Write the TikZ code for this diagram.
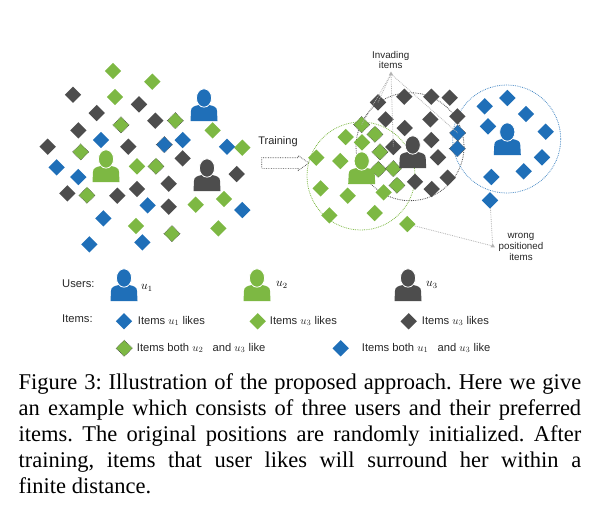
\documentclass[tikz,border=0pt]{standalone}
\usepackage{fontspec}
\setmainfont{Liberation Serif}
\setsansfont{Liberation Sans}
\usetikzlibrary{shapes.geometric}
\usetikzlibrary{shapes.arrows}
\definecolor{ublue}{HTML}{1F6FB8}
\definecolor{ugreen}{HTML}{7DB843}
\definecolor{ugray}{HTML}{4D4D4D}
\tikzset{
  pics/person/.style={
    code={
      \fill[#1] (-13.5,15) -- (-13,5) .. controls (-13,1) and (-10,0) .. (-5,-1)
        -- (5,-1) .. controls (10,0) and (13,1) .. (13,5) -- (13.5,15) -- cycle;
      \fill[#1, draw=white, line width=0.8pt] (0,-8) ellipse (7.6 and 9.2);
    }
  }
}
\begin{document}
\begin{tikzpicture}[
  x=1pt, y=-1pt,
  item/.style={
    diamond,
    minimum size=16.5pt,
    inner sep=0pt
  },
  blueitem/.style={item, fill=ublue},
  greenitem/.style={item, fill=ugreen},
  grayitem/.style={item, fill=ugray},
  bothgreen/.style={greenitem, draw=ugray, densely dotted, line width=0.6pt},
  bothblue/.style={blueitem, draw=ugray, densely dotted, line width=0.6pt},
  area/.style={circle, inner sep=0pt, minimum size=108pt, densely dotted, line width=0.8pt},
  pointer/.style={draw=black!30, densely dotted, line width=0.8pt},
  apex/.style={regular polygon, regular polygon sides=3, fill=black!30, inner sep=0pt, minimum size=5pt},
  label/.style={font=\sffamily\fontsize{9.8}{10.8}\selectfont, text=black!85, inner sep=0pt},
  keytext/.style={font=\sffamily\fontsize{11.2}{13}\selectfont, text=black!85, inner sep=0pt, anchor=west},
  symbol/.style={font=\fontsize{12}{14}\selectfont, anchor=west, inner sep=0pt},
  caption/.style={font=\fontsize{22.5}{26}\selectfont\frenchspacing, text width=562.5pt, align=justify, inner sep=0pt, anchor=north west}
]
\useasboundingbox (0,0) rectangle (603,504);

% Before training
\foreach \name/\x/\y in {a1/249/63,a2/367/95,a3/255/141,a4/548/241,a5/637/293,a6/321/349,a7/497/464,a8/582/447,a9/318/528,a10/565/535}
  \node[greenitem] (\name) at ({30+\x/3},{50+\y/3}) {};
\foreach \name/\x/\y in {b1/273/225,b2/436/212,b3/152/306,b4/378/349,b5/171/436,b6/426/551}
  \node[bothgreen] (\name) at ({30+\x/3},{50+\y/3}) {};
\foreach \name/\x/\y in {c1/129/134,c2/200/189,c3/327/163,c4/376/212,c5/145/241,c6/53/290,c7/295/290,c8/458/325,c9/620/372,c10/416/401,c11/321/417,c12/112/430,c13/262/437,c14/416/470}
  \node[grayitem] (\name) at ({30+\x/3},{50+\y/3}) {};
\foreach \name/\x/\y in {d1/213/270,d2/458/270,d3/591/290,d4/80/352,d5/145/381,d6/353/466,d7/637/480,d8/220/505,d9/178/583,d10/337/577}
  \node[blueitem] (\name) at ({30+\x/3},{50+\y/3}) {};
\node[bothblue] (d11) at ({30+403/3},{50+284/3}) {};

\pic at (204,106) {person=ublue};
\pic at (106,167) {person=ugreen};
\pic at (207,176) {person=ugray};

% Training arrow
\node[label, font=\sffamily\fontsize{11}{13}\selectfont] (training) at (278,142) {Training};
\node[single arrow, draw=black!75, densely dotted, line width=0.7pt, inner sep=0pt,
  minimum width=14pt, minimum height=47pt, single arrow head extend=2pt,
  single arrow tip angle=70] (trainarrow) at (281.5,163) {\rule{0pt}{10pt}};

% After training
\node[area, draw=ugreen] (greenarea) at (361,176) {};
\node[area, draw=ugray] (grayarea) at (410,146.7) {};
\node[area, draw=ublue!80] (bluearea) at (506.7,139) {};

\node[apex] (invade) at (391,74) {};
\node[apex] (wrong) at (492.7,246) {};
\node[label, align=center] (invadetext) at (390.7,60) {Invading\\items};
\node[label, align=center] (wrongtext) at (521,247) {wrong\\positioned\\items};

\foreach \name/\x/\y in {e1/215/254,e2/255/283,e3/270/336,e4/265/388,e5/310/386,e6/321/436}
  \node[bothgreen] (\name) at ({290+\x/3},{40+\y/3}) {};
\foreach \name/\x/\y in {f1/167/291,f2/216/307,f3/79/353,f4/151/363,f5/92/445,f6/173/467,f7/281/457,f8/118/526,f9/254/519,f10/352/552}
  \node[greenitem] (\name) at ({290+\x/3},{40+\y/3}) {};
\foreach \name/\x/\y in {g1/264/187,g2/343/170,g3/424/170,g4/479/173,g5/287/238,g6/344/264,g7/421/238,g8/502/229,g9/424/300,g10/310/321,g11/444/352,g12/375/425,g13/473/413,g14/425/447}
  \node[grayitem] (\name) at ({290+\x/3},{40+\y/3}) {};
\foreach \name/\x/\y in {h1/584/199,h2/652/174,h3/708/222,h4/594/259,h5/767/275,h6/756/352,h7/701/394,h8/604/411,h9/600/481}
  \node[blueitem] (\name) at ({290+\x/3},{40+\y/3}) {};
\foreach \name/\x/\y in {j1/503/279,j2/502/326}
  \node[bothblue] (\name) at ({290+\x/3},{40+\y/3}) {};

\pic at (361.7,169) {person=ugreen};
\pic at (412.7,153) {person=ugray};
\pic at (507.3,140) {person=ublue};

\draw[pointer] (invade) -- (g1.center);
\draw[pointer] (invade) -- (e1.center);
\draw[pointer] (invade) -- (g10.center);
\draw[pointer] (invade) -- (j1.center);
\draw[pointer] (wrong) -- (f10);
\draw[pointer] (wrong) -- (h9);

% Legend
\node[keytext] (users) at (62,284) {Users:};
\node[keytext] (items) at (62,319) {Items:};
\pic at (124,286) {person=ublue};
\pic at (257,286) {person=ugreen};
\pic at (408,286) {person=ugray};
\node[symbol] (u1) at (141,288) {$u_1$};
\node[symbol] (u2) at (276,285) {$u_2$};
\node[symbol] (u3) at (426,285) {$u_3$};

\node[blueitem] (k1) at (124,321.3) {};
\node[keytext] (k1text) at (137.7,321) {Items $u_1$ likes};
\node[greenitem] (k2) at (257.7,321.3) {};
\node[keytext] (k2text) at (269.7,321) {Items $u_3$ likes};
\node[grayitem] (k3) at (408.7,321.3) {};
\node[keytext] (k3text) at (421.7,321) {Items $u_3$ likes};
\node[bothgreen] (k4) at (124.3,348.3) {};
\node[keytext] (k4text) at (136.7,348) {Items both $u_2$\;\; and $u_3$ like};
\node[blueitem] (k5) at (340.7,348.3) {};
\node[keytext] (k5text) at (361.7,348) {Items both $u_1$\;\; and $u_3$ like};

% Caption
\node[caption] (figcaption) at (18.5,373) {Figure 3: Illustration of the proposed approach. Here we give\linebreak an example which consists of three users and their preferred\linebreak items. The original positions are randomly initialized. After\linebreak training, items that user likes will surround her within a\linebreak finite distance.};
\end{tikzpicture}
\end{document}
